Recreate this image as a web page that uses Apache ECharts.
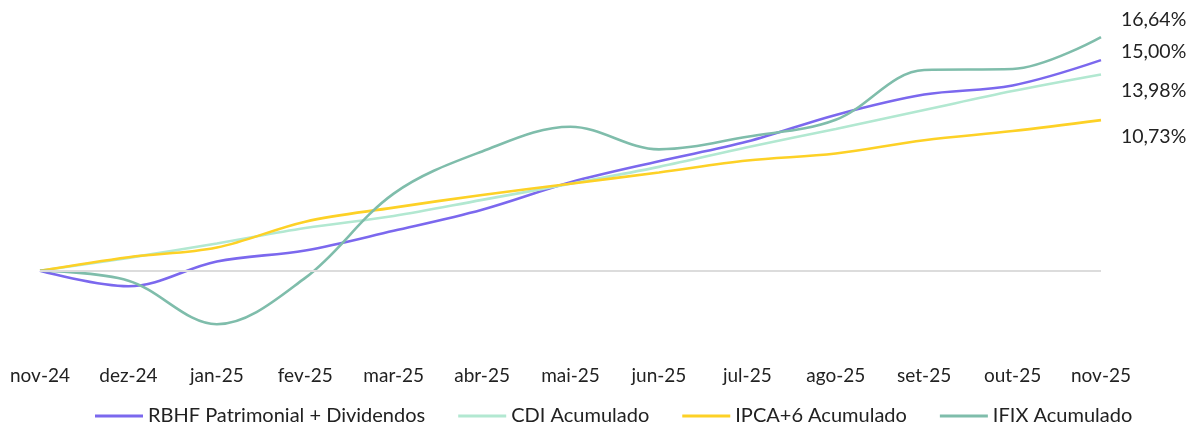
<!DOCTYPE html>
<html><head><meta charset="utf-8">
<script src="https://cdn.jsdelivr.net/npm/echarts@6/dist/echarts.min.js"></script>
<style>html,body{margin:0;padding:0;background:#fff}#c{width:1189px;height:423px}</style>
</head><body><div id="c"></div>
<script>
const categories = ['nov-24','dez-24','jan-25','fev-25','mar-25','abr-25','mai-25','jun-25','jul-25','ago-25','set-25','out-25','nov-25'];
const rbhf = [0, -1.1, 0.66, 1.45, 2.85, 4.35, 6.3, 7.8, 9.2, 11.1, 12.55, 13.2, 15.00];
const cdi  = [0, 0.92, 1.95, 3.05, 3.9, 5.05, 6.2, 7.4, 8.8, 10.1, 11.45, 12.8, 13.98];
const ipca = [0, 0.97, 1.66, 3.5, 4.5, 5.4, 6.2, 7.0, 7.85, 8.35, 9.3, 9.95, 10.73];
const ifix = [0, -0.7, -3.8, -0.5, 5.5, 8.5, 10.26, 8.65, 9.55, 10.75, 14.3, 14.37, 16.64];
const seriesNames = ['RBHF Patrimonial + Dividendos','CDI Acumulado','IPCA+6 Acumulado','IFIX Acumulado'];

const FONT = 'Lato';
const fmt = v => v.toFixed(2).replace('.', ',') + '%';
function mk(name, data, color, dy, extra) {
  return Object.assign({
    name, type: 'line', data, smooth: 0.35, symbol: 'none',
    lineStyle: { width: 2.6, color }, itemStyle: { color },
    endLabel: { show: true, formatter: p => fmt(p.value), distance: 20, offset: [0, dy],
      color: '#222', fontSize: 19.5, fontFamily: FONT }
  }, extra || {});
}
const chart = echarts.init(document.getElementById('c'));
chart.setOption({
  animation: false,
  textStyle: { fontFamily: FONT },
  grid: { left: 40, right: 88, top: 18, bottom: 96 },
  legend: {
    data: seriesNames, top: 401, left: 90, itemWidth: 48, itemHeight: 3, itemGap: 33,
    icon: 'rect',
    textStyle: { fontSize: 20, color: '#222', fontFamily: FONT }
  },
  xAxis: {
    type: 'category', data: categories, boundaryGap: false,
    axisLine: { show: false }, axisTick: { show: false },
    axisLabel: { margin: 39, fontSize: 19, color: '#222', fontFamily: FONT, interval: 0 }
  },
  yAxis: { type: 'value', min: -4, max: 18, show: false, splitLine: { show: false } },
  series: [
    mk(seriesNames[0], rbhf, '#7b68ee', -8, {
      markLine: { silent: true, symbol: 'none', label: { show: false },
        lineStyle: { color: '#dcdcdc', width: 2, type: 'solid' }, data: [{ yAxis: 0 }] }
    }),
    mk(seriesNames[1], cdi, '#b2e8d1', 16),
    mk(seriesNames[2], ipca, '#fdd126', 17),
    mk(seriesNames[3], ifix, '#7fbdab', -17)
  ]
});
</script></body></html>
